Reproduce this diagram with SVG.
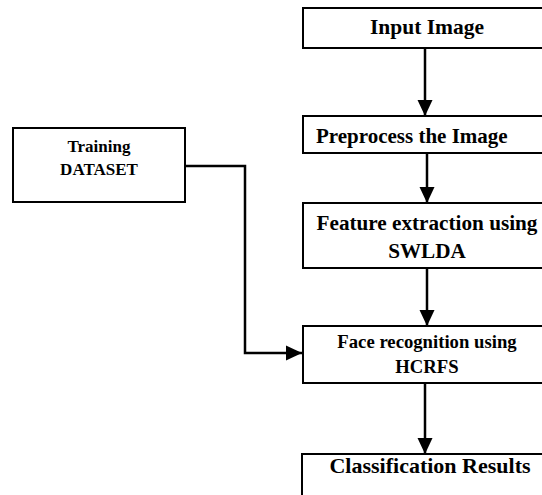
<svg xmlns="http://www.w3.org/2000/svg" width="542" height="495" viewBox="0 0 542 495">
<style>
.box{fill:#fff;stroke:#000;stroke-width:2}
.t{font-family:"Liberation Serif","Times New Roman",serif;font-weight:bold;fill:#000}
.ln{fill:none;stroke:#000;stroke-width:2.5}
</style>
<defs>
<marker id="ah" markerUnits="userSpaceOnUse" markerWidth="16" markerHeight="18" viewBox="0 0 16 18" refX="16" refY="9" orient="auto">
<path d="M0,1.5 L16,9 L0,16.5 Z" fill="#000"/>
</marker>
</defs>
<g id="connectors">
<line class="ln" x1="425" y1="48" x2="425" y2="116" marker-end="url(#ah)"/>
<line class="ln" x1="427" y1="153" x2="427" y2="203" marker-end="url(#ah)"/>
<line class="ln" x1="427" y1="268" x2="427" y2="326" marker-end="url(#ah)"/>
<line class="ln" x1="425" y1="383" x2="425" y2="454" marker-end="url(#ah)"/>
<polyline class="ln" points="185,166 245,166 245,353 302,353" marker-end="url(#ah)"/>
</g>
<g id="input">
<rect class="box" x="303" y="8" width="260" height="40"/>
<text class="t" x="427" y="34" font-size="21.5" text-anchor="middle">Input Image</text>
</g>
<g id="preprocess">
<rect class="box" x="303" y="116" width="260" height="37"/>
<text class="t" x="316" y="143" font-size="21">Preprocess the Image</text>
</g>
<g id="training">
<rect class="box" x="13" y="128" width="172" height="74"/>
<text class="t" x="99" y="152" font-size="17" text-anchor="middle">Training</text>
<text class="t" x="99" y="175" font-size="17" text-anchor="middle">DATASET</text>
</g>
<g id="feature">
<rect class="box" x="303" y="203" width="260" height="65"/>
<text class="t" x="427" y="230" font-size="21.2" text-anchor="middle">Feature extraction using</text>
<text class="t" x="427" y="258" font-size="21.2" text-anchor="middle">SWLDA</text>
</g>
<g id="face">
<rect class="box" x="303" y="326" width="260" height="57"/>
<text class="t" x="427" y="348" font-size="18.7" text-anchor="middle">Face recognition using</text>
<text class="t" x="427" y="373" font-size="18.7" text-anchor="middle">HCRFS</text>
</g>
<g id="classification">
<rect class="box" x="302" y="454" width="260" height="60"/>
<text class="t" x="430" y="473" font-size="22" text-anchor="middle">Classification Results</text>
</g>
</svg>
